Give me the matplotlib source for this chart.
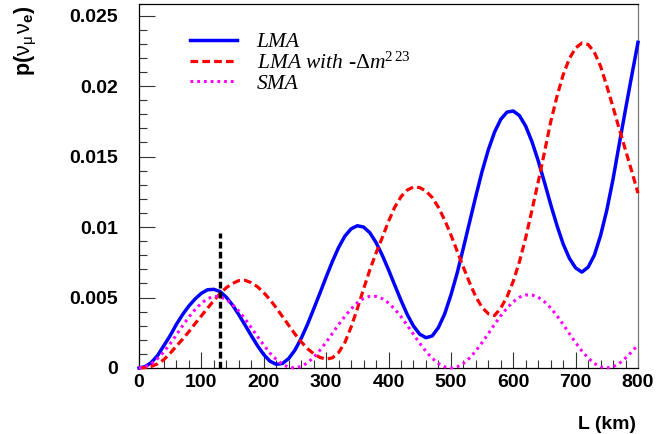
import matplotlib
matplotlib.use("Agg")
import matplotlib.pyplot as plt
from matplotlib.ticker import MultipleLocator, FuncFormatter

# ---------------- data ----------------
L_km = list(range(0, 801, 10))

lma = [0.0000, 0.0001, 0.0004, 0.0009, 0.0016, 0.0023, 0.0031, 0.0038, 0.0044, 0.0049,
       0.0053, 0.00555, 0.00558, 0.00542, 0.00502, 0.00446, 0.00378, 0.00305, 0.00230, 0.00158,
       0.00095, 0.00048, 0.00026, 0.00032, 0.00067, 0.00127, 0.00210, 0.00308, 0.00418, 0.00530,
       0.00645, 0.00755, 0.00855, 0.00935, 0.00987, 0.01009, 0.01000, 0.00960, 0.00890, 0.00800,
       0.00697, 0.00588, 0.00480, 0.00380, 0.00298, 0.00240, 0.00215, 0.00227, 0.00287, 0.00383,
       0.00517, 0.00672, 0.00851, 0.01035, 0.01219, 0.01394, 0.01547, 0.01673, 0.01764, 0.01815,
       0.01823, 0.01790, 0.01715, 0.01605, 0.01470, 0.01318, 0.01160, 0.01012, 0.00880, 0.00778,
       0.00710, 0.00680, 0.00715, 0.00800, 0.00940, 0.01120, 0.01340, 0.01590, 0.01835, 0.02075,
       0.02310]

lma_neg = [0.0000, 0.00003, 0.00012, 0.00030, 0.00060, 0.00105, 0.00155, 0.00205, 0.00258, 0.00315,
           0.00370, 0.00425, 0.00478, 0.00528, 0.00570, 0.00600, 0.00620, 0.00622, 0.00605, 0.00576,
           0.00535, 0.00485, 0.00427, 0.00365, 0.00303, 0.00241, 0.00186, 0.00138, 0.00101, 0.00075,
           0.00063, 0.00072, 0.00110, 0.00180, 0.00290, 0.00420, 0.00560, 0.00695, 0.00815, 0.00925,
           0.01040, 0.01140, 0.01215, 0.01262, 0.01284, 0.01280, 0.01255, 0.01210, 0.01140, 0.01050,
           0.00945, 0.00830, 0.00715, 0.00605, 0.00505, 0.00430, 0.00385, 0.00372, 0.00425, 0.00505,
           0.00615, 0.00755, 0.00925, 0.01120, 0.01320, 0.01530, 0.01745, 0.01925, 0.02080, 0.02195,
           0.02270, 0.02305, 0.02295, 0.02240, 0.02140, 0.02000, 0.01850, 0.01695, 0.01545, 0.01395,
           0.01240]

sma = [0.0000, 0.00008, 0.00030, 0.00068, 0.00115, 0.00172, 0.00235, 0.00300, 0.00362, 0.00415,
       0.00460, 0.00492, 0.00508, 0.00505, 0.00485, 0.00450, 0.00404, 0.00349, 0.00287, 0.00223,
       0.00163, 0.00106, 0.00061, 0.00026, 0.00005, 0.00000, 0.00011, 0.00036, 0.00075, 0.00126,
       0.00183, 0.00245, 0.00308, 0.00366, 0.00419, 0.00463, 0.00493, 0.00508, 0.00508, 0.00492,
       0.00461, 0.00418, 0.00364, 0.00303, 0.00239, 0.00176, 0.00118, 0.00069, 0.00032, 0.00008,
       0.00000, 0.00008, 0.00032, 0.00071, 0.00121, 0.00180, 0.00244, 0.00309, 0.00371, 0.00425,
       0.00470, 0.00502, 0.00518, 0.00518, 0.00502, 0.00470, 0.00426, 0.00371, 0.00309, 0.00244,
       0.00180, 0.00121, 0.00071, 0.00032, 0.00008, 0.00000, 0.00008, 0.00032, 0.00071, 0.00115,
       0.00165]

marker_L = [130, 130]
marker_p = [0.0, 0.0096]

labels = ["LMA", r"LMA with -$\Delta$m$^{2\,23}$", "SMA"]
x_ticks = [0, 100, 200, 300, 400, 500, 600, 700, 800]
y_ticks = [0, 0.005, 0.01, 0.015, 0.02, 0.025]

# ---------------- style ----------------
plt.rcParams['mathtext.fontset'] = 'custom'
plt.rcParams['mathtext.rm'] = 'Liberation Serif'
plt.rcParams['mathtext.it'] = 'Liberation Serif:italic'
plt.rcParams['mathtext.bf'] = 'Liberation Sans:bold'
plt.rcParams['mathtext.sf'] = 'Liberation Sans'

W, H = 658, 434
fig = plt.figure(figsize=(W / 100, H / 100), dpi=100)
ax = fig.add_axes([139 / W, 1 - 368 / H, (638 - 139) / W, (368 - 4) / H])

l1, = ax.plot(L_km, lma, color='#0000ff', lw=2.5, solid_joinstyle='round', clip_on=False, zorder=3)
l2, = ax.plot(L_km, lma_neg, color='#ff0000', lw=2.3, dashes=(2.4, 1.3), clip_on=False, zorder=3)
l3, = ax.plot(L_km, sma, color='#ff00ff', lw=2.2, dashes=(0.9, 1.3), clip_on=False, zorder=3)
ax.plot(marker_L, marker_p, color='black', lw=2.4, dashes=(2.0, 1.0), clip_on=False, zorder=4)

ax.set_xlim(0, 800)
ax.set_ylim(0, 0.02582)

ax.xaxis.set_major_locator(plt.FixedLocator(x_ticks))
ax.xaxis.set_minor_locator(MultipleLocator(20))
ax.yaxis.set_major_locator(plt.FixedLocator(y_ticks))
ax.yaxis.set_minor_locator(MultipleLocator(0.001))
ax.yaxis.set_major_formatter(FuncFormatter(lambda v, p: f"{v:g}"))
ax.xaxis.set_major_formatter(FuncFormatter(lambda v, p: f"{v:g}"))

ax.tick_params(which='both', direction='in', top=False, right=False, width=0.8, color='#333333')
ax.tick_params(which='major', length=11.5)
ax.tick_params(which='minor', length=6)
ax.tick_params(axis='y', which='major', pad=15)
ax.tick_params(axis='x', which='major', pad=4.5)
for lab in ax.get_xticklabels() + ax.get_yticklabels():
    lab.set_fontfamily('Liberation Sans')
    lab.set_fontweight('bold')
    lab.set_fontsize(14)

for s in ax.spines.values():
    s.set_linewidth(0.9)
ax.spines['right'].set_color('#777777')

leg = ax.legend([l1, l2, l3], labels, loc='upper left', bbox_to_anchor=(0.102, 0.922),
                frameon=False, borderpad=0, borderaxespad=0, handlelength=2.2,
                handletextpad=0.9, labelspacing=0.0,
                prop={'family': 'Liberation Serif', 'style': 'italic', 'size': 15.5})

fig.text(25 / W, 1 - 5 / H, r"$\mathbf{p(}\mathsf{\nu}_{\mathsf{\mu}}\,\mathsf{\nu}_{\mathbf{e}}\mathbf{)}$",
         rotation=90, ha='center', va='top', fontsize=15.5)
fig.text(636 / W, 1 - 429 / H, "L (km)", ha='right', va='baseline',
         fontfamily='Liberation Sans', fontweight='bold', fontsize=14)

fig.savefig("out.png", dpi=100)
